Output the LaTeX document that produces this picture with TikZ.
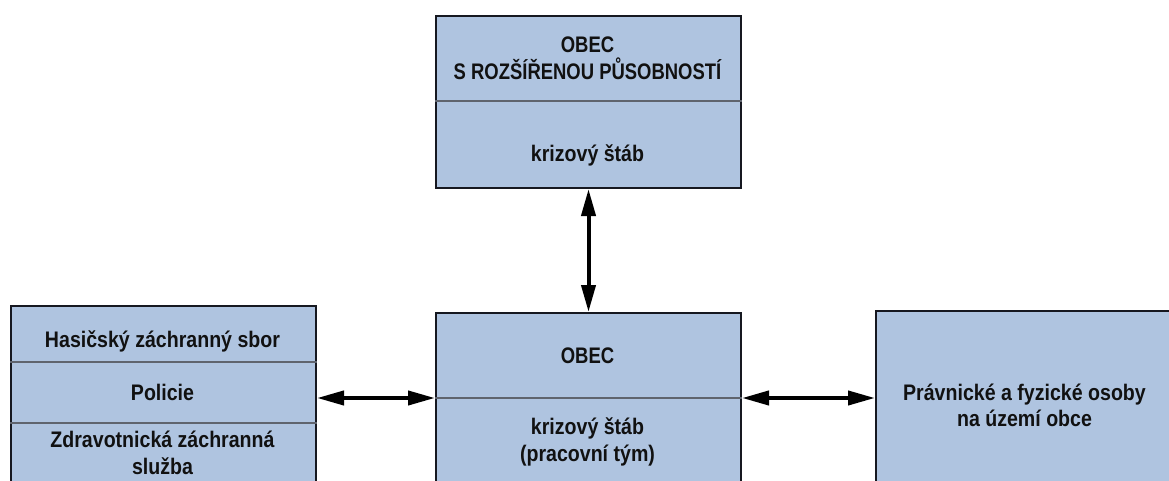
\documentclass[tikz,border=0pt]{standalone}
\usepackage{fontspec}
\setmainfont{Liberation Sans}[FakeStretch=0.87]
\newfontfamily\capsfont{Liberation Sans}[FakeStretch=0.82]
\usetikzlibrary{arrows.meta}
\definecolor{boxfill}{RGB}{175,196,224}
\definecolor{boxline}{RGB}{22,24,32}
\definecolor{divline}{RGB}{95,100,110}
\definecolor{txtcol}{RGB}{17,17,17}
\tikzset{
  box/.style={draw=boxline, fill=boxfill, line width=2pt, anchor=north west, inner sep=0pt},
  divider/.style={draw=divline, line width=1.6pt},
  conn/.style={line width=4pt, {Triangle[length=27pt,width=14pt]}-{Triangle[length=27pt,width=14pt]}},
  txt/.style={font=\fontsize{22.5}{26}\selectfont\bfseries, text=txtcol, anchor=base, inner sep=0pt},
  capstxt/.style={txt, font=\capsfont\fontsize{22.5}{26}\selectfont\bfseries}
}
\begin{document}
\begin{tikzpicture}[x=1pt,y=-1pt]
\useasboundingbox (0,0) rectangle (1169,481);
\clip (0,0) rectangle (1169,481);
% boxes
\node[box, minimum width=305pt, minimum height=172pt] (top) at (435,15) {};
\node[box, minimum width=305pt, minimum height=190pt] (mid) at (435,312) {};
\node[box, minimum width=305pt, minimum height=200pt] (left) at (10,305) {};
\node[box, minimum width=300pt, minimum height=200pt] (right) at (875,310) {};
% dividers
\draw[divider] ([yshift=-86pt]top.north west) -- ([yshift=-86pt]top.north east);
\coordinate (ml) at ([yshift=-86pt]mid.north west);
\coordinate (mr) at ([yshift=-86pt]mid.north east);
\draw[divider] (ml) -- (mr);
\draw[divider] ([yshift=-57pt]left.north west) -- ([yshift=-57pt]left.north east);
\draw[divider] ([yshift=-118pt]left.north west) -- ([yshift=-118pt]left.north east);
% texts
\node[capstxt] (t1) at (587.5,53) {OBEC};
\node[capstxt] (t2) at (587.5,80) {S ROZŠÍŘENOU PŮSOBNOSTÍ};
\node[txt] (t3) at (587.5,162) {krizový štáb};
\node[capstxt] (m1) at (587.5,363) {OBEC};
\node[txt] (m2) at (587.5,434) {krizový štáb};
\node[txt] (m3) at (587.5,461) {(pracovní tým)};
\node[txt] (l1) at (162.5,347) {Hasičský záchranný sbor};
\node[txt] (l2) at (162.5,400) {Policie};
\node[txt] (l3) at (162.5,447) {Zdravotnická záchranná};
\node[txt] (l4) at (162.5,474) {služba};
\node[txt] (r1) at (1024.5,400) {Právnické a fyzické osoby};
\node[txt] (r2) at (1024.5,426) {na území obce};
% connectors
\draw[conn] (top.south) -- (mid.north);
\draw[conn] (left.east |- ml) -- (ml);
\draw[conn] (mr) -- (right.west |- mr);
\end{tikzpicture}
\end{document}
